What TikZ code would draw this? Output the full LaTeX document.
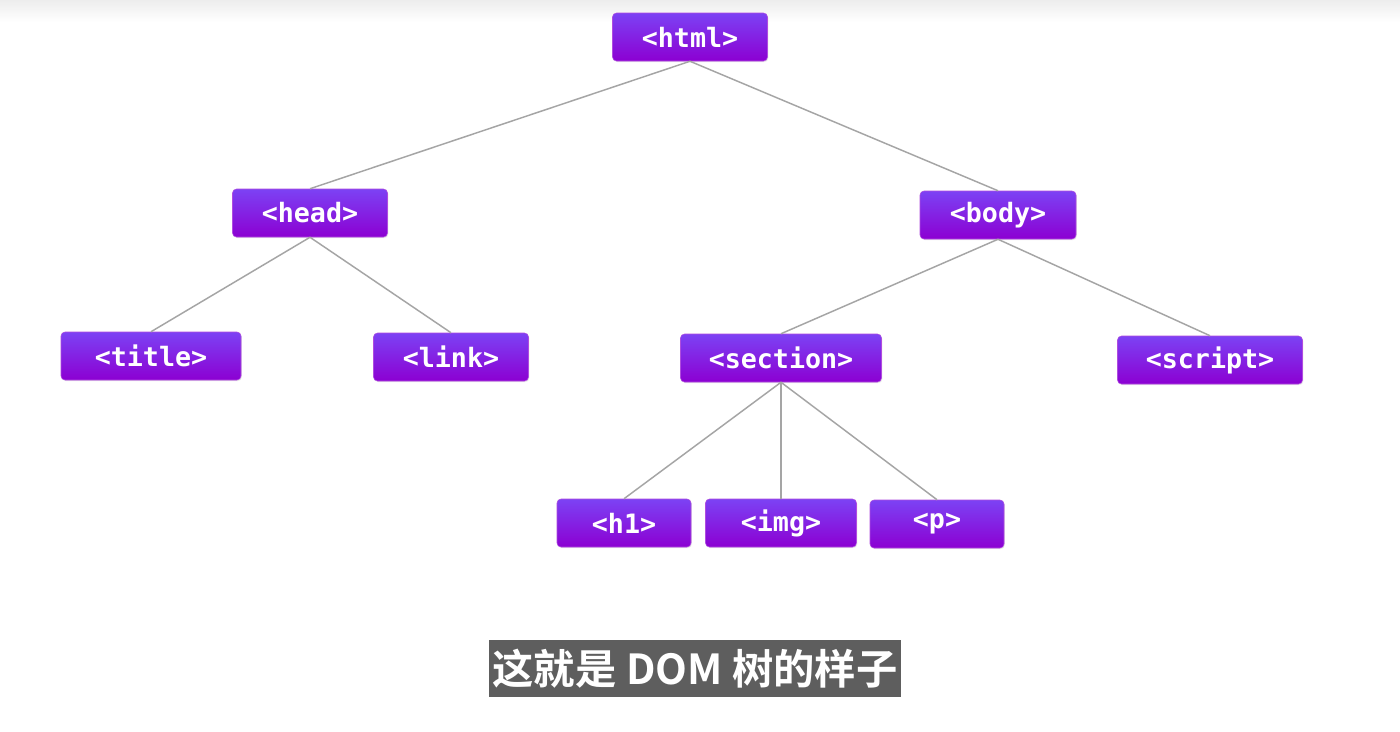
\documentclass[tikz,border=0pt]{standalone}
\usepackage{fontspec}
\setmonofont{DejaVu Sans Mono}
\newfontfamily\cjk{Noto Sans CJK SC}[BoldFont={* Bold}]
\usetikzlibrary{shadows}

\definecolor{tagtop}{RGB}{124,66,244}
\definecolor{tagbot}{RGB}{140,0,210}
\definecolor{edgegray}{RGB}{165,165,165}
\definecolor{subgray}{RGB}{94,94,94}

\tikzset{every picture/.style={line width=0.75pt}}
\tikzset{
  tag/.style={rounded corners=3pt, top color=tagtop, bottom color=tagbot,
    draw=tagbot!70!white, line width=0.4pt, text=white,
    font=\ttfamily\bfseries\fontsize{20}{20}\selectfont,
    minimum width=#1*0.75pt, minimum height=36pt, inner sep=0pt,
    drop shadow={shadow xshift=0.6pt, shadow yshift=-0.8pt, opacity=0.18}},
  branch/.style={draw=edgegray, line width=1.1pt}
}

\begin{document}
\begin{tikzpicture}[x=0.75pt,y=0.75pt,yscale=-1,xscale=1]
\useasboundingbox (0,0) rectangle (1400,732);
\fill[white] (0,0) rectangle (1400,732);
% faint grey band along the top
\shade[top color=black!7, bottom color=white] (0,0) rectangle (1400,22);

% tree nodes
\node[tag=155] (html) at (690,37) {<html>};
\node[tag=155] (head) at (310,213) {<head>};
\node[tag=156] (body) at (998,215) {<body>};
\node[tag=180] (title) at (151,356) {<title>};
\node[tag=155] (link) at (451,357) {<link>};
\node[tag=201] (section) at (781,358) {<section>};
\node[tag=185] (script) at (1210,360) {<script>};
\node[tag=134] (h1) at (624,523) {<h1>};
\node[tag=151] (img) at (781,523) {<img>};
\node[tag=134] (p) at (937,524) {<p>};

% branches
\draw[branch] (html.south) -- (head.north);
\draw[branch] (html.south) -- (body.north);
\draw[branch] (head.south) -- (title.north);
\draw[branch] (head.south) -- (link.north);
\draw[branch] (body.south) -- (section.north);
\draw[branch] (body.south) -- (script.north);
\draw[branch] (section.south) -- (h1.north);
\draw[branch] (section.south) -- (img.north);
\draw[branch] (section.south) -- (p.north);

% subtitle
\node[fill=subgray, text=white, inner sep=0pt, minimum width=309pt,
  minimum height=42.75pt, font=\cjk\bfseries\fontsize{31}{31}\selectfont]
  (caption) at (695,668.5) {这就是 DOM 树的样子};

\end{tikzpicture}
\end{document}
